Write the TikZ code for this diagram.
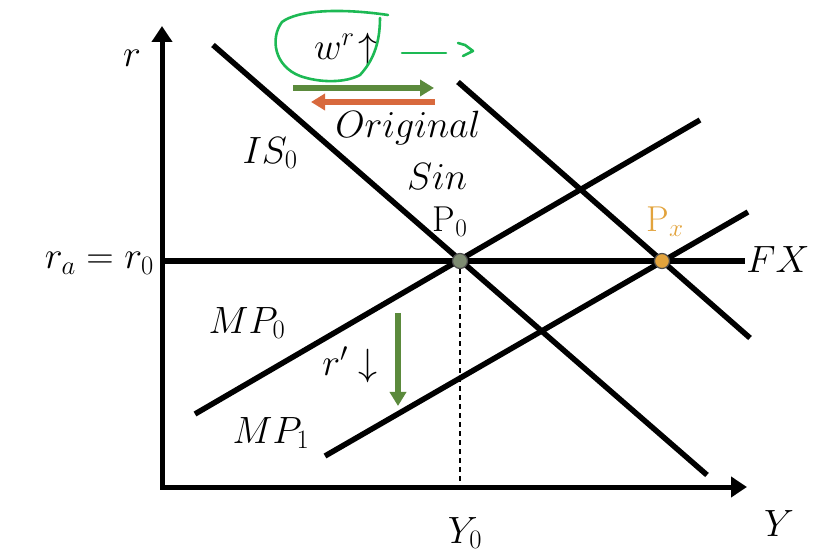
\RequirePackage{fix-cm}
\documentclass[tikz,border=0pt]{standalone}
\usetikzlibrary{arrows.meta}
\definecolor{dgreen}{HTML}{5B8A3C}
\definecolor{dorange}{HTML}{D8693D}
\definecolor{hgreen}{HTML}{1DB954}
\definecolor{pzero}{HTML}{7E8C72}
\definecolor{pxcol}{HTML}{E2A33C}
\tikzset{
  curve/.style={line width=5.5pt, black},
  axis/.style={line width=5pt, -{Triangle[length=16pt,width=20pt]}},
  lbl/.style={font=\fontsize{38}{44}\selectfont, inner sep=0pt},
  plbl/.style={font=\fontsize{36}{40}\selectfont, inner sep=0pt},
  shiftarrow/.style={line width=6pt, -{Triangle[length=14pt,width=16pt]}},
  dot/.style={circle, draw=black!70, line width=1.2pt, minimum size=15pt, inner sep=0pt},
}
\begin{document}
\begin{tikzpicture}[x=1pt,y=-1pt]
\useasboundingbox (0,0) rectangle (825,553);
% coordinates
\coordinate (O) at (162,487);
\coordinate (ytop) at (162,26);
\coordinate (xend) at (747,487);
\coordinate (fxl) at (162,261);
\coordinate (fxr) at (745,261);
\coordinate (is0a) at (213,45);
\coordinate (is0b) at (707,475);
\coordinate (is1a) at (458,82);
\coordinate (is1b) at (750,338);
\coordinate (mp0a) at (195,414);
\coordinate (mp0b) at (700,120);
\coordinate (mp1a) at (325,456);
\coordinate (mp1b) at (748,212);
\coordinate (yzero) at (460,487);
% lines
\draw[curve] (fxl) -- (fxr);
\draw[curve] (is0a) -- (is0b);
\draw[curve] (is1a) -- (is1b);
\draw[curve] (mp0a) -- (mp0b);
\draw[curve] (mp1a) -- (mp1b);
\draw[axis] (160,487) -- (xend);
\draw[axis] (O) -- (ytop);
% points
\node[dot, fill=pzero] (P0) at (460,261) {};
\node[dot, fill=pxcol] (Px) at (662,261) {};
\draw[dashed, line width=1.3pt, dash pattern=on 5pt off 4pt] (P0) -- (yzero);
% labels
\node[lbl] (rlab) at (132,58) {$r$};
\node[lbl, anchor=east] (ralab) at (154,263) {$r_a=r_0$};
\node[lbl] (islab) at (270,153) {$IS_0$};
\node[lbl] (mp0lab) at (247,323) {$MP_0$};
\node[lbl] (mp1lab) at (271,433) {$MP_1$};
\node[lbl] (rplab) at (350,365) {$r'\downarrow$};
\node[lbl] (y0lab) at (465,533) {$Y_0$};
\node[lbl] (ylab) at (779,524) {$Y$};
\node[lbl] (fxlab) at (778,260) {$FX$};
\node[plbl] (p0lab) at (450,222) {P$_0$};
\node[plbl, text=pxcol] (pxlab) at (665,222) {P$_x$};
\node[lbl] (orig) at (408,128) {$Original$};
\node[lbl] (sin) at (437,177) {$Sin$};
\node[lbl] (wr) at (346,50) {$w^r\!\uparrow$};
% shift arrows
\coordinate (ga) at (293,88);
\coordinate (gb) at (434,88);
\coordinate (oa) at (435,102);
\coordinate (ob) at (311,102);
\draw[shiftarrow, dgreen] (ga) -- (gb);
\draw[shiftarrow, dorange] (oa) -- (ob);
\coordinate (da) at (398,313);
\coordinate (db) at (398,406);
\draw[shiftarrow, dgreen] (da) -- (db);
% hand-drawn annotation
\draw[hgreen, line width=2.6pt, line cap=round, line join=round]
  (388,15) .. controls (340,8) and (298,10) .. (282,22)
  .. controls (270,38) and (274,66) .. (300,76)
  .. controls (320,83) and (345,83) .. (360,75)
  .. controls (372,62) and (380,45) .. (380,18);
\coordinate (ha) at (402,53);
\coordinate (hb) at (446,53);
\draw[hgreen, line width=2.6pt, line cap=round] (ha) -- (hb);
\draw[hgreen, line width=2.6pt, line cap=round, line join=round]
  (458,43) -- (465,45) -- (473,51) -- (463,56);
\end{tikzpicture}
\end{document}
